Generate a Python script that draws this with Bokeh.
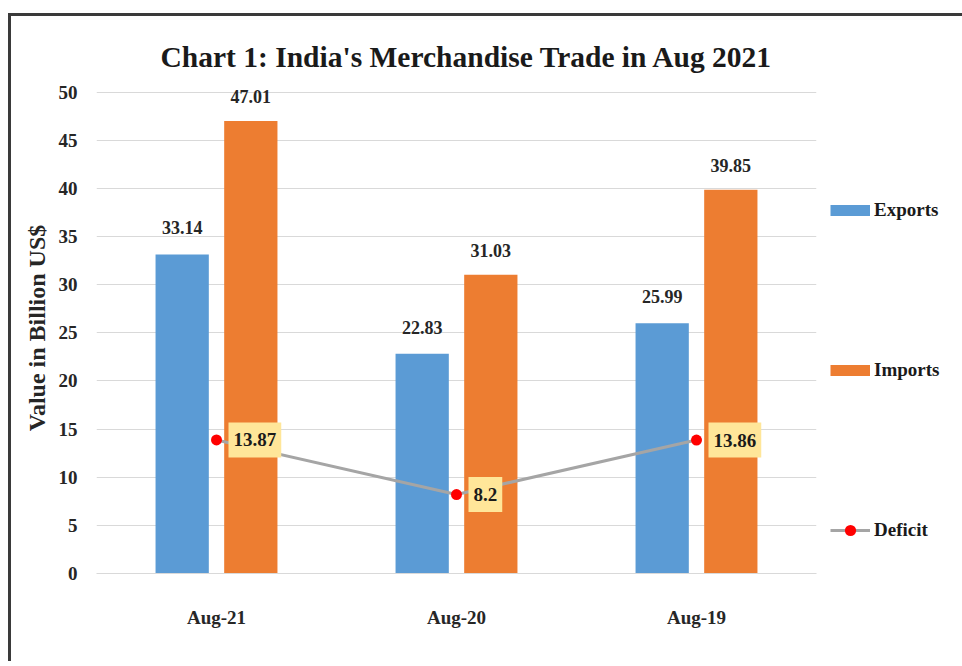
from bokeh.plotting import figure
from bokeh.models import (ColumnDataSource, FactorRange, Range1d, LabelSet, Label, Legend,
                          LegendItem, Title)
from bokeh.transform import dodge
from bokeh.embed import file_html
from bokeh.resources import INLINE

months = ["Aug-21", "Aug-20", "Aug-19"]
exports = [33.14, 22.83, 25.99]
imports = [47.01, 31.03, 39.85]
deficit = [13.87, 8.2, 13.86]
y_ticks = [0, 5, 10, 15, 20, 25, 30, 35, 40, 45, 50]
title_text = "Chart 1: India's Merchandise Trade in Aug 2021"

src = ColumnDataSource(dict(
    m=months, exp=exports, imp=imports, dfc=deficit,
    exp_t=[f"{v:.2f}" for v in exports],
    imp_t=[f"{v:.2f}" for v in imports],
))

SERIF = "Liberation Serif"
TXT = "#262626"
BLUE = "#5B9BD5"
ORANGE = "#ED7D31"

x_range = FactorRange(*months)
p = figure(x_range=x_range, y_range=Range1d(0, 51),
           frame_width=720, frame_height=491,
           output_backend="svg", toolbar_location=None,
           min_border_left=85, min_border_right=0,
           min_border_top=66, min_border_bottom=88)
p.styles = {"border-top": "3px solid #3a3a3a", "border-left": "3px solid #3a3a3a",
            "margin-top": "13px", "margin-left": "8px"}
p.outline_line_color = None
p.background_fill_color = "white"
p.border_fill_color = "white"

p.title = Title(text=title_text, align="left", offset=64, standoff=20,
                text_font=SERIF, text_font_style="bold", text_font_size="29.5px",
                text_color="#1a1a1a")

exp_r = p.vbar(x=dodge("m", -0.143, range=p.x_range), top="exp", width=0.222,
               source=src, fill_color=BLUE, line_color=None)
imp_r = p.vbar(x=dodge("m", 0.143, range=p.x_range), top="imp", width=0.222,
               source=src, fill_color=ORANGE, line_color=None)
line_r = p.line(x="m", y="dfc", source=src, line_color="#A5A5A5", line_width=3)
dot_r = p.scatter(x="m", y="dfc", source=src, size=11, fill_color="#FF0000",
                  line_color=None, marker="circle")

# legend swatches: thick lines over the same data on a range that puts them
# outside the plot area, so they only give the legend its flat colour bars
p.extra_y_ranges = {"key": Range1d(1000, 2000)}
exp_key = p.line(x="m", y="exp", source=src, y_range_name="key", line_color=BLUE,
                 line_width=11, line_cap="butt")
imp_key = p.line(x="m", y="imp", source=src, y_range_name="key", line_color=ORANGE,
                 line_width=11, line_cap="butt")

p.add_layout(LabelSet(x=dodge("m", -0.143, range=p.x_range), y="exp", text="exp_t",
                      source=src, text_align="center", text_baseline="alphabetic",
                      y_offset=20, text_font=SERIF, text_font_style="bold",
                      text_font_size="18px", text_color=TXT))
p.add_layout(LabelSet(x=dodge("m", 0.143, range=p.x_range), y="imp", text="imp_t",
                      source=src, text_align="center", text_baseline="alphabetic",
                      y_offset=18, text_font=SERIF, text_font_style="bold",
                      text_font_size="18px", text_color=TXT))

# deficit call-outs; x is the factor's synthetic coordinate (category centre)
for i, (m, d) in enumerate(zip(months, deficit)):
    p.add_layout(Label(x=i + 0.5, y=d, text=f"{d:g}", x_offset=12, text_align="left",
                       text_baseline="middle", text_font=SERIF, text_font_style="bold",
                       text_font_size="19px", text_color="#1a1a1a",
                       background_fill_color="#FFE699", padding=(5, 11)))

# axes
p.xaxis.axis_line_color = "#D9D9D9"
p.xaxis.major_tick_line_color = None
p.xaxis.minor_tick_line_color = None
p.xaxis.major_tick_out = 0
p.xaxis.major_label_standoff = 33
p.xaxis.major_label_text_font = SERIF
p.xaxis.major_label_text_font_style = "bold"
p.xaxis.major_label_text_font_size = "19px"
p.xaxis.major_label_text_color = TXT

p.yaxis.ticker = y_ticks
p.yaxis.axis_line_color = None
p.yaxis.major_tick_line_color = None
p.yaxis.minor_tick_line_color = None
p.yaxis.major_tick_out = 0
p.yaxis.major_label_standoff = 19
p.yaxis.major_label_text_font = SERIF
p.yaxis.major_label_text_font_style = "bold"
p.yaxis.major_label_text_font_size = "19px"
p.yaxis.major_label_text_color = TXT
p.yaxis.axis_label = "Value in Billion US$"
p.yaxis.axis_label_standoff = 6
p.yaxis.axis_label_text_font = SERIF
p.yaxis.axis_label_text_font_style = "bold"
p.yaxis.axis_label_text_font_size = "24px"
p.yaxis.axis_label_text_color = TXT

p.xgrid.grid_line_color = None
p.ygrid.grid_line_color = "#D9D9D9"
p.ygrid.grid_line_width = 1

legend = Legend(items=[LegendItem(label="Exports", renderers=[exp_key]),
                       LegendItem(label="Imports", renderers=[imp_key]),
                       LegendItem(label="Deficit", renderers=[line_r, dot_r])],
                location=(14, 29), orientation="vertical", ncols=1, spacing=132,
                padding=0, margin=0, border_line_color=None,
                background_fill_alpha=0, glyph_width=40, glyph_height=28,
                label_height=22, label_standoff=4,
                label_text_font=SERIF, label_text_font_style="bold",
                label_text_font_size="19px", label_text_color="#1a1a1a")
p.add_layout(legend, "right")

open("out.html", "w").write(file_html(p, INLINE))
